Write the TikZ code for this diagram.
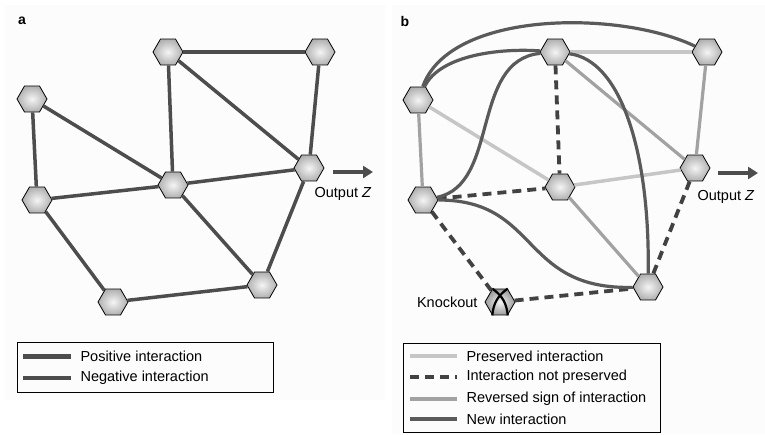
\documentclass[tikz,border=0pt]{standalone}
\usepackage{fontspec}
\setmainfont{Liberation Sans}
\usetikzlibrary{shapes.geometric,arrows.meta}
\definecolor{edgedark}{HTML}{4D4D4D}
\definecolor{newedge}{HTML}{5A5A5A}
\definecolor{keptedge}{HTML}{C6C6C6}
\definecolor{flipedge}{HTML}{A2A2A2}
\definecolor{lostedge}{HTML}{424242}
\tikzset{
  gene/.style={regular polygon,regular polygon sides=6,minimum size=30pt,inner sep=0pt,
    draw=black,line width=0.8pt,inner color=gray!8,outer color=gray!62},
  link/.style={draw=edgedark,line width=3.5pt},
  kept/.style={draw=keptedge,line width=3.5pt},
  flipped/.style={draw=flipedge,line width=3.2pt},
  lost/.style={draw=lostedge,line width=3.8pt,dash pattern=on 9pt off 6pt},
  newlink/.style={draw=newedge,line width=3.2pt},
  outarrow/.style={draw=edgedark,line width=4pt,-{Triangle[length=10pt,width=12pt]}},
  lbl/.style={font=\fontsize{14.5}{16}\selectfont},
  panel/.style={font=\fontsize{14}{16}\selectfont\bfseries}
}
\begin{document}
\begin{tikzpicture}[x=1pt,y=-1pt]
\useasboundingbox (0,0) rectangle (765,434);
\fill[gray!2] (5,5) rectangle (385,400);
\fill[gray!2] (392,5) rectangle (765,434);

% panel a
\node[panel] (la) at (22,21) {a};
\node[gene] (a1) at (168,52) {};
\node[gene] (a2) at (320,52) {};
\node[gene] (a3) at (32,99) {};
\node[gene] (a4) at (173,185) {};
\node[gene] (a5) at (309,168) {};
\node[gene] (a6) at (37,200) {};
\node[gene] (a7) at (262,285) {};
\node[gene] (a8) at (113,302) {};
\draw[link] (a1) -- (a2);
\draw[link] (a1) -- (a4);
\draw[link] (a1) -- (a5);
\draw[link] (a2) -- (a5);
\draw[link] (a3) -- (a6);
\draw[link] (a3) -- (a4);
\draw[link] (a6) -- (a4);
\draw[link] (a4) -- (a5);
\draw[link] (a6) -- (a8);
\draw[link] (a4) -- (a7);
\draw[link] (a5) -- (a7);
\draw[link] (a8) -- (a7);
\coordinate (za) at (333,172);
\coordinate (zaend) at (373,172);
\draw[outarrow] (za) -- (zaend);
\node[lbl] (outa) at (343,194) {Output \textit{Z}};

% legend a
\draw[line width=0.8pt] (17,342) rectangle (273,392);
\draw[edgedark,line width=5pt] (23,356) -- (71,356);
\draw[edgedark,line width=4pt] (23,378) -- (71,378);
\node[lbl,anchor=west] (pos) at (77,356) {Positive interaction};
\node[lbl,anchor=west] (neg) at (77,378) {Negative interaction};

% panel b
\node[panel] (lb) at (405,21) {b};
\node[gene] (b1) at (555,52) {};
\node[gene] (b2) at (707,52) {};
\node[gene] (b3) at (418,100) {};
\node[gene] (b4) at (560,187) {};
\node[gene] (b5) at (695,168) {};
\node[gene] (b6) at (423,200) {};
\node[gene] (b7) at (648,287) {};
\node[gene,outer color=gray!80] (b8) at (500,302) {};
\draw[black,line width=2.2pt] (b8.120) to[bend left=25] (b8.300);
\draw[black,line width=2.2pt] (b8.60) to[bend right=25] (b8.240);

\draw[kept] (b1) -- (b2);
\draw[kept] (b3) -- (b4);
\draw[kept] (b4) -- (b5);
\draw[flipped] (b1) -- (b5);
\draw[flipped] (b2) -- (b5);
\draw[flipped] (b3) -- (b6);
\draw[flipped] (b4) -- (b7);
\draw[lost] (b1) -- (b4);
\draw[lost] (b6) -- (b4);
\draw[lost] (b6) -- (b8);
\draw[lost] (b8) -- (b7);
\draw[lost] (b5) -- (b7);
\draw[newlink] (b3) .. controls (450,10) and (620,10) .. (b2);
\draw[newlink] (b3) .. controls (440,55) and (500,48) .. (b1);
\draw[newlink] (b6) .. controls (500,185) and (470,60) .. (b1);
\draw[newlink] (b1) .. controls (620,60) and (650,150) .. (b7);
\draw[newlink] (b6) .. controls (540,200) and (520,290) .. (b7);
\coordinate (zb) at (718,173);
\coordinate (zbend) at (758,173);
\draw[outarrow] (zb) -- (zbend);
\node[lbl] (outb) at (726,197) {Output \textit{Z}};
\node[lbl,anchor=east] (ko) at (481,302) {Knockout};

% legend b
\draw[line width=0.8pt] (403,343) rectangle (660,432);
\draw[keptedge,line width=4pt] (410,356) -- (457,356);
\draw[lostedge,line width=4pt,dash pattern=on 9pt off 6pt] (410,377) -- (457,377);
\draw[flipedge,line width=4pt] (410,399) -- (457,399);
\draw[newedge,line width=4.5pt] (410,419) -- (457,419);
\node[lbl,anchor=west] (pres) at (463,356) {Preserved interaction};
\node[lbl,anchor=west] (notp) at (463,377) {Interaction not preserved};
\node[lbl,anchor=west] (rev) at (463,399) {Reversed sign of interaction};
\node[lbl,anchor=west] (new) at (463,419) {New interaction};
\end{tikzpicture}
\end{document}
